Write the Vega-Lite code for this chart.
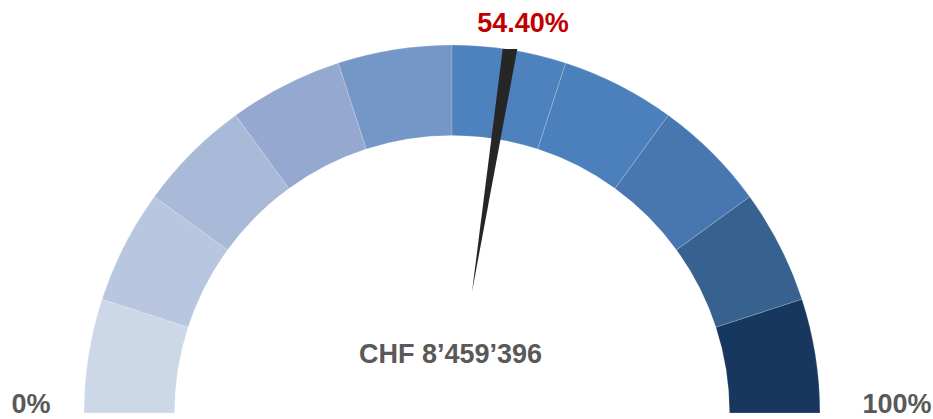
{
  "$schema": "https://vega.github.io/schema/vega-lite/v6.json",
  "width": 933,
  "height": 419,
  "padding": 0,
  "autosize": {"type": "none"},
  "background": "white",
  "config": {"view": {"stroke": null}},
  "layer": [
    {
      "data": {"values": [
        {"seg": 1, "start": 0, "end": 10},
        {"seg": 2, "start": 10, "end": 20},
        {"seg": 3, "start": 20, "end": 30},
        {"seg": 4, "start": 30, "end": 40},
        {"seg": 5, "start": 40, "end": 50},
        {"seg": 6, "start": 50, "end": 60},
        {"seg": 7, "start": 60, "end": 70},
        {"seg": 8, "start": 70, "end": 80},
        {"seg": 9, "start": 80, "end": 90},
        {"seg": 10, "start": 90, "end": 100}
      ]},
      "mark": {"type": "arc", "radius": 368, "radius2": 277.5, "stroke": "white", "strokeWidth": 0.6, "strokeOpacity": 0.3},
      "encoding": {
        "x": {"datum": 0, "type": "quantitative", "scale": {"domain": [-452, 481], "nice": false, "zero": false}, "axis": null},
        "y": {"datum": 0, "type": "quantitative", "scale": {"domain": [-6, 413], "nice": false, "zero": false}, "axis": null},
        "theta": {"field": "start", "type": "quantitative", "stack": null, "scale": {"domain": [0, 100], "range": [-1.5707963, 1.5707963]}},
        "theta2": {"field": "end"},
        "color": {"field": "seg", "type": "ordinal", "legend": null, "scale": {"domain": [1,2,3,4,5,6,7,8,9,10], "range": ["#ccd7e8", "#b9c6e0", "#a9bad8", "#95a9d0", "#7597c7", "#4e82bf", "#4b80bc", "#4876ae", "#37628f", "#17375e"]}}
      }
    },
    {
      "data": {"values": [
        {"ny": 121, "xl": 20, "xr": 20},
        {"ny": 364, "xl": 50.7, "xr": 65.3}
      ]},
      "mark": {"type": "area", "orient": "horizontal", "color": "#262626", "opacity": 1},
      "encoding": {
        "y": {"field": "ny", "type": "quantitative"},
        "x": {"field": "xl", "type": "quantitative", "stack": null},
        "x2": {"field": "xr"}
      }
    },
    {
      "data": {"values": [
        {"label": "54.40%", "tx": 71, "ty": 381, "kind": "value"},
        {"label": "CHF 8’459’396", "tx": -1.5, "ty": 50, "kind": "amount"},
        {"label": "0%", "tx": -421, "ty": 0, "kind": "min"},
        {"label": "100%", "tx": 445, "ty": 0, "kind": "max"}
      ]},
      "mark": {"type": "text", "font": "Liberation Sans", "fontWeight": "bold", "fontSize": 27, "align": "center", "baseline": "alphabetic"},
      "encoding": {
        "x": {"field": "tx", "type": "quantitative"},
        "y": {"field": "ty", "type": "quantitative"},
        "text": {"field": "label"},
        "color": {"field": "kind", "type": "nominal", "legend": null, "scale": {"domain": ["value", "amount", "min", "max"], "range": ["#c00000", "#595959", "#595959", "#595959"]}}
      }
    }
  ],
  "resolve": {"scale": {"color": "independent"}}
}
